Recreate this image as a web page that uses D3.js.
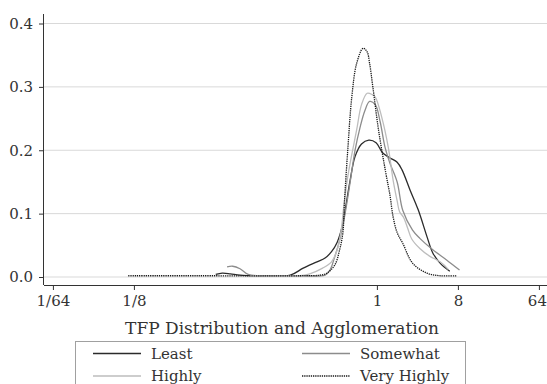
<!DOCTYPE html>
<html><head><meta charset="utf-8">
<script src="https://cdn.jsdelivr.net/npm/d3@7"></script>
<style>
html,body{margin:0;padding:0;background:#fff;}
svg{display:block;font-family:"DejaVu Serif",serif;}
</style></head>
<body>
<svg id="chart" width="547" height="384"></svg>
<script>
// x positions are in log-TFP axis units (1 = 0, 8 = 1, 64 = 2, 1/8 = -3, 1/64 = -4)
const xTickValues = [-4, -3, 0, 1, 2];
const xTickLabels = ["1/64", "1/8", "1", "8", "64"];
const yTickValues = [0, 0.1, 0.2, 0.3, 0.4];
const seriesNames = ["Least", "Somewhat", "Highly", "Very Highly"];

const leastX = [-1.99,-1.91,-1.81,-1.69,-1.44,-1.07,-0.91,-0.74,-0.64,-0.56,-0.49,-0.43,-0.38,-0.33,-0.27,-0.19,-0.10,-0.01,0.07,0.16,0.25,0.31,0.41,0.51,0.62,0.69,0.78,0.90];
const leastY = [0.004,0.006,0.005,0.003,0.002,0.003,0.014,0.024,0.030,0.040,0.055,0.079,0.115,0.153,0.190,0.210,0.216,0.212,0.196,0.188,0.181,0.169,0.137,0.106,0.063,0.038,0.022,0.009];

const somewhatX = [-1.85,-1.78,-1.69,-1.59,-1.44,-0.95,-0.64,-0.58,-0.52,-0.46,-0.40,-0.33,-0.27,-0.21,-0.15,-0.09,-0.02,0.04,0.10,0.16,0.25,0.32,0.44,0.53,0.69,0.86,1.02];
const somewhatY = [0.016,0.017,0.013,0.004,0.002,0.002,0.003,0.011,0.032,0.058,0.095,0.150,0.200,0.235,0.262,0.277,0.272,0.245,0.205,0.180,0.150,0.105,0.074,0.061,0.043,0.027,0.011];

const highlyX = [-1.57,-0.95,-0.83,-0.67,-0.56,-0.49,-0.44,-0.41,-0.37,-0.33,-0.25,-0.19,-0.12,-0.06,-0.02,0.06,0.14,0.20,0.25,0.28,0.33,0.38,0.43,0.53,0.65,0.78,0.88];
const highlyY = [0.002,0.002,0.005,0.014,0.024,0.043,0.075,0.110,0.150,0.180,0.232,0.272,0.290,0.288,0.284,0.252,0.205,0.153,0.120,0.103,0.094,0.077,0.060,0.045,0.033,0.024,0.012];

const veryX = [-3.07,-2.2,-0.95,-0.70,-0.62,-0.52,-0.46,-0.42,-0.40,-0.36,-0.31,-0.25,-0.17,-0.12,-0.09,-0.05,0.02,0.11,0.16,0.20,0.25,0.32,0.44,0.62,0.78,0.99];
const veryY = [0.002,0.002,0.002,0.003,0.006,0.019,0.043,0.070,0.120,0.200,0.284,0.337,0.361,0.355,0.337,0.300,0.232,0.164,0.130,0.095,0.070,0.053,0.022,0.006,0.002,0.002];

const styles = [
  {color:"#2b2b2b", width:1.3, dash:null},
  {color:"#8c8c8c", width:1.3, dash:null},
  {color:"#bdbdbd", width:1.3, dash:null},
  {color:"#1a1a1a", width:1.3, dash:"1.3,0.9"}
];
const seriesX = [leastX, somewhatX, highlyX, veryX];
const seriesY = [leastY, somewhatY, highlyY, veryY];

const svg = d3.select("#chart");
const pLeft = 44, pRight = 547, pTop = 14, pBottom = 285;
const x = d3.scaleLinear().domain([-4.11, 2.1]).range([pLeft, pRight]);
const y = d3.scaleLinear().domain([-0.0126, 0.415]).range([pBottom, pTop]);

// gridlines
svg.append("g").selectAll("line").data(yTickValues).join("line")
  .attr("x1", pLeft).attr("x2", pRight)
  .attr("y1", d => y(d)).attr("y2", d => y(d))
  .attr("stroke", "#d9d9d9").attr("stroke-width", 1);

// curves
const line = d3.line().x(d => x(d[0])).y(d => y(d[1])).curve(d3.curveCatmullRom.alpha(0.5));
seriesX.forEach((xs, i) => {
  const pts = xs.map((v, j) => [v, seriesY[i][j]]);
  const s = styles[i];
  svg.append("path").datum(pts).attr("d", line)
    .attr("fill", "none").attr("stroke", s.color).attr("stroke-width", s.width)
    .attr("stroke-dasharray", s.dash);
});

// axes
const yAxis = d3.axisLeft(y).tickValues(yTickValues).tickFormat(d3.format(".1f")).tickSize(5).tickPadding(6);
const gy = svg.append("g").attr("transform", `translate(${pLeft},0)`).call(yAxis);
gy.select(".domain").attr("d", `M-0.5,${pTop}V${pBottom}`).attr("stroke", "#333");
gy.selectAll(".tick line").attr("stroke", "#333");
gy.selectAll("text").attr("font-family", "DejaVu Serif").attr("font-size", 15).attr("fill", "#333");

const xAxis = d3.axisBottom(x).tickValues(xTickValues).tickFormat((d, i) => xTickLabels[i]).tickSize(5).tickPadding(5);
const gx = svg.append("g").attr("transform", `translate(0,${pBottom})`).call(xAxis);
gx.select(".domain").attr("d", `M${pLeft},0.5H${pRight}`).attr("stroke", "#333");
gx.selectAll(".tick line").attr("stroke", "#333");
gx.selectAll("text").attr("font-family", "DejaVu Serif").attr("font-size", 15).attr("fill", "#333");
// keep the last label inside the window
gx.selectAll(".tick text").filter((d, i) => i === xTickValues.length - 1).attr("dx", -2);

// title
svg.append("text").attr("x", 282).attr("y", 334).attr("text-anchor", "middle")
  .attr("font-size", 17).attr("fill", "#333").text("TFP Distribution and Agglomeration");

// legend
svg.append("rect").attr("x", 75.5).attr("y", 341.5).attr("width", 390).attr("height", 60)
  .attr("fill", "none").attr("stroke", "#a0a0a0").attr("stroke-width", 1);
const legPos = [[93, 353.5], [302, 353.5], [93, 376], [302, 376]];
seriesNames.forEach((name, i) => {
  const s = styles[i];
  const [lx, ly] = legPos[i];
  svg.append("line").attr("x1", lx).attr("x2", lx + 48).attr("y1", ly).attr("y2", ly)
    .attr("stroke", s.color).attr("stroke-width", s.width).attr("stroke-dasharray", s.dash);
  svg.append("text").attr("x", lx + 58).attr("y", ly + 5)
    .attr("font-size", 15).attr("fill", "#333").text(name);
});
</script>
</body></html>
